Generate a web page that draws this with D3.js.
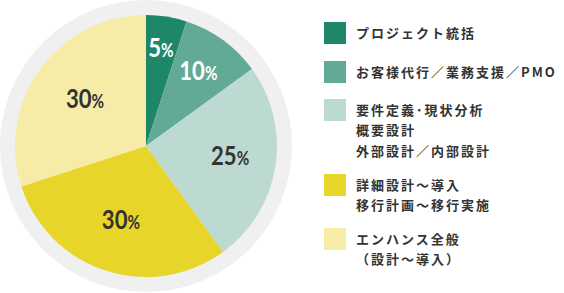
<!DOCTYPE html>
<html lang="ja">
  <head>
    <meta charset="utf-8">
    <title>Pie</title>
    <style>
      body { margin: 0; background: #fff; }
      svg { display: block; }
      .pct { font-family: Lato, "Noto Sans", sans-serif; font-weight: 700; }
      .legend text { font-family: "Noto Sans CJK JP", sans-serif; font-size: 13px; letter-spacing: 2px; fill: #333; font-weight: 700; }
    </style>
  </head>
  <body>
    <script src="https://cdnjs.cloudflare.com/ajax/libs/d3/7.8.5/d3.min.js"></script>
    <script>

    var categories = ["プロジェクト統括", "お客様代行／業務支援／PMO", "要件定義・現状分析", "詳細設計～導入", "エンハンス全般"];
    var values = [5, 10, 25, 30, 30];
    var legendLines = [
      ["プロジェクト統括"],
      ["お客様代行／業務支援／PMO"],
      ["要件定義･現状分析", "概要設計", "外部設計／内部設計"],
      ["詳細設計～導入", "移行計画～移行実施"],
      ["エンハンス全般", "（設計～導入）"]
    ];
    var colors = ["#1f8769", "#62aa96", "#bddad2", "#e8d52a", "#f6eca8"];
    var labelColors = ["#fff", "#fff", "#333", "#333", "#333"];

    var w = 564, h = 293,
        cx = 146, cy = 146,
        r = 131;

    var svg = d3.select("body").append("svg")
      .attr("width", w)
      .attr("height", h);

    svg.append("circle")
      .attr("cx", cx).attr("cy", cy).attr("r", 146)
      .attr("fill", "#f0f0f0");

    var pie = d3.pie().sort(null)(values);
    var arc = d3.arc().innerRadius(0).outerRadius(r);

    var g = svg.append("g").attr("transform", "translate(" + cx + "," + cy + ")");

    g.selectAll("path")
      .data(pie)
      .enter().append("path")
        .attr("d", arc)
        .attr("fill", function(d, i) { return colors[i]; });

    // label radius per slice (small slices sit further out)
    var labelR = [0.73, 0.68, 0.65, 0.62, 0.575];
    g.selectAll("text.pct")
      .data(pie)
      .enter().append("text")
        .attr("class", "pct")
        .attr("text-anchor", "middle")
        .attr("dy", "0.36em")
        .attr("fill", function(d, i) { return labelColors[i]; })
        .attr("transform", function(d, i) {
          var a = (d.startAngle + d.endAngle) / 2, rr = r * labelR[i];
          return "translate(" + (Math.sin(a) * rr) + "," + (-Math.cos(a) * rr) + ") scale(0.85,1)";
        })
        .each(function(d) {
          var t = d3.select(this);
          t.append("tspan").attr("font-size", 26).text(d.data);
          t.append("tspan").attr("font-size", 18).text("%");
        });

    var legendY = [22, 61, 99, 174, 228];
    var lg = svg.append("g").attr("class", "legend");
    var items = lg.selectAll("g")
      .data(categories)
      .enter().append("g")
        .attr("transform", function(d, i) { return "translate(324," + legendY[i] + ")"; });

    items.append("rect")
      .attr("width", 22).attr("height", 22)
      .attr("fill", function(d, i) { return colors[i]; });

    items.each(function(d, i) {
      var t = d3.select(this);
      legendLines[i].forEach(function(line, j) {
        t.append("text")
          .attr("x", 32)
          .attr("y", 15.5 + j * 20.5)
          .text(line);
      });
    });

    </script>
  </body>
</html>
